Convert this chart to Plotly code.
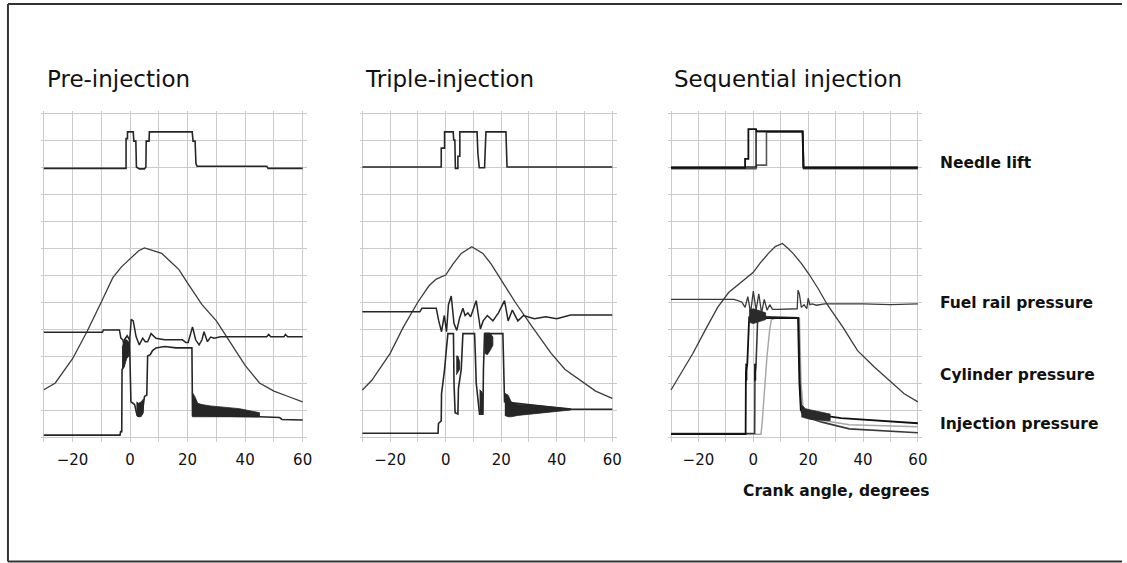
import plotly.graph_objects as go

W, H = 1127, 563

# ---------------- data ----------------
x_tick_vals = [-30, -20, -10, 0, 10, 20, 30, 40, 50, 60]
x_tick_text = ["", "\u221220", "", "0", "", "20", "", "40", "", "60"]
y_grid_vals = [0, 1, 2, 3, 4, 5, 6, 7, 8, 9, 10, 11, 12]

panel_titles = ["Pre-injection", "Triple-injection", "Sequential injection"]
trace_labels = ["Needle lift", "Fuel rail pressure", "Cylinder pressure", "Injection pressure"]
x_axis_title = "Crank angle, degrees"

# ---- Panel 1 : Pre-injection ----
p1_needle_x = [-30, -1.4, -1.4, -0.9, -0.9, 1.1, 1.3, 2.0, 2.2, 3.2, 5.0, 5.5, 5.6, 6.6, 6.7, 21.6, 21.9, 22.6, 22.9, 23.3, 47.5, 48, 60]
p1_needle_y = [9.95, 9.95, 11.05, 11.05, 11.3, 11.3, 10.96, 10.96, 10.0, 9.93, 9.93, 10.0, 10.96, 10.96, 11.3, 11.3, 10.96, 10.96, 10.13, 10.03, 10.03, 9.95, 9.95]

p1_cyl_x = [-30, -26, -20, -15, -10, -6, -3, -1, 1, 3, 5, 8, 11, 14, 17, 20, 25, 30, 35, 40, 45, 50, 55, 60]
p1_cyl_y = [1.75, 2.0, 2.9, 3.9, 5.0, 5.9, 6.3, 6.5, 6.7, 6.9, 7.0, 6.9, 6.8, 6.5, 6.2, 5.7, 4.9, 4.3, 3.5, 2.65, 2.0, 1.7, 1.5, 1.3]

p1_rail_x = [-30, -9.6, -9.3, -3.7, -3.2, -2.5, -1.4, -0.8, -0.2, 0.4, 1.1, 2.1, 3.2, 4.4, 5.3, 6.1, 7.3, 9.0, 12, 18.2, 19.4, 20.2, 21.7, 22.8, 24.0, 25.0, 25.7, 26.9, 28, 29.2, 31.5, 47.5, 48.2, 48.9, 53.5, 54.0, 54.8, 60]
p1_rail_y = [3.88, 3.88, 3.96, 3.96, 3.66, 3.6, 2.97, 3.2, 3.5, 4.36, 4.3, 3.71, 3.41, 3.66, 3.53, 3.53, 3.83, 3.66, 3.6, 3.6, 3.5, 3.5, 4.08, 3.6, 3.41, 3.6, 3.9, 3.53, 3.7, 3.66, 3.71, 3.71, 3.8, 3.71, 3.71, 3.8, 3.71, 3.71]

p1_inj_x = [-30, -3.5, -3.3, -2.9, -2.8, -2.2, -2.0, -1.0, -0.2, 0.3, 1.0, 1.6, 2.2, 2.8, 3.5, 4.2, 5.0, 5.8, 6.1, 7.0, 7.8, 9.0, 12.0, 16.0, 21.5, 21.7, 45.0, 52.0, 52.8, 60.0]
p1_inj_y = [0.07, 0.07, 0.2, 0.2, 2.5, 2.6, 3.6, 3.75, 3.6, 1.3, 1.25, 1.2, 0.9, 0.75, 1.0, 0.85, 1.5, 1.55, 3.0, 3.05, 3.2, 3.3, 3.35, 3.3, 3.3, 0.8, 0.75, 0.72, 0.65, 0.63]

# oscillation envelopes (upper / lower) read from the dark smeared regions
p1_band1_x = [-2.8, -2.0, -1.2, -0.4]
p1_band1_up = [3.3, 3.6, 3.6, 3.5]
p1_band1_lo = [2.5, 2.6, 2.9, 3.0]
p1_band2_x = [2.2, 3.0, 3.8, 4.6]
p1_band2_up = [1.3, 1.25, 1.3, 1.4]
p1_band2_lo = [0.8, 0.75, 0.75, 0.9]
p1_band3_x = [21.6, 22.5, 23.5, 25, 28, 33, 38, 45]
p1_band3_up = [1.65, 1.5, 1.25, 1.2, 1.15, 1.1, 1.05, 0.9]
p1_band3_lo = [0.75, 0.75, 0.75, 0.75, 0.75, 0.75, 0.75, 0.75]

# ---- Panel 2 : Triple-injection ----
p2_needle_x = [-30, -1.6, -1.6, -0.4, -0.4, 2.7, 2.9, 3.3, 3.5, 4.4, 4.4, 5.1, 5.1, 11.3, 11.6, 12.1, 14.0, 14.5, 21.7, 22.1, 60]
p2_needle_y = [10.0, 10.0, 10.7, 10.7, 11.3, 11.3, 11.0, 11.0, 9.95, 9.95, 10.4, 10.4, 11.3, 11.3, 10.5, 9.97, 9.97, 11.3, 11.3, 10.0, 10.0]

p2_cyl_x = [-30, -26.6, -20, -15.3, -10, -6, -3.4, 0, 2.6, 5.6, 9.4, 13.4, 16.4, 19.4, 25, 31.3, 38, 43, 48.6, 54, 60]
p2_cyl_y = [1.74, 2.1, 3.1, 4.06, 5.0, 5.6, 5.85, 6.0, 6.4, 6.8, 7.05, 6.8, 6.4, 5.9, 5.0, 4.06, 3.1, 2.5, 2.1, 1.7, 1.43]

p2_rail_x = [-30, -9.3, -8.5, -3.4, -2.5, -1.5, -0.5, 0.3, 1.0, 2.0, 3.0, 4.0, 5.0, 6.2, 7.0, 8.0, 9.0, 11.0, 12.5, 13.5, 15.0, 17.0, 19.0, 21.2, 22.5, 24.0, 26.0, 28.0, 32.0, 36.0, 40.0, 45.0, 60]
p2_rail_y = [4.64, 4.64, 4.77, 4.77, 4.3, 3.9, 4.5, 3.9, 4.9, 5.22, 4.2, 3.95, 4.4, 4.77, 4.5, 4.6, 4.45, 5.05, 4.0, 4.3, 4.5, 4.3, 4.6, 5.05, 4.3, 4.7, 4.3, 4.5, 4.38, 4.45, 4.38, 4.52, 4.52]

p2_inj_x = [-30, -2.75, -2.6, -1.6, -1.5, -0.4, 0.3, 0.8, 2.8, 3.0, 3.4, 4.4, 4.6, 5.6, 6.2, 10.4, 10.7, 11.0, 12.2, 13.4, 13.6, 14.0, 20.6, 21.2, 45, 60]
p2_inj_y = [0.14, 0.14, 0.5, 0.6, 1.6, 2.5, 3.3, 3.83, 3.83, 2.0, 0.9, 0.85, 1.8, 2.5, 3.83, 3.83, 3.0, 2.0, 0.84, 0.84, 2.5, 3.83, 3.83, 1.3, 1.03, 1.03]

p2_band1_x = [21.3, 22.5, 23.6, 26, 30, 35, 40, 45]
p2_band1_up = [1.62, 1.55, 1.3, 1.2, 1.19, 1.15, 1.1, 1.05]
p2_band1_lo = [0.8, 0.75, 0.75, 0.8, 0.85, 0.9, 0.95, 1.0]
p2_band2_x = [14.0, 15.0, 16.0, 17.0]
p2_band2_up = [3.85, 3.85, 3.85, 3.7]
p2_band2_lo = [3.1, 3.05, 3.2, 3.4]
p2_band3_x = [3.8, 4.4, 5.0]
p2_band3_up = [3.0, 3.0, 2.8]
p2_band3_lo = [2.3, 2.4, 2.5]
p2_band4_x = [12.2, 12.8, 13.4]
p2_band4_up = [1.75, 1.7, 1.6]
p2_band4_lo = [0.9, 0.85, 0.9]

# ---- Panel 3 : Sequential injection (three timings) ----
p3_needle_a_x = [-30, -3.0, -3.0, -1.8, -1.8, 1.0, 1.2, 18.0, 18.3, 60]
p3_needle_a_y = [9.97, 9.97, 10.3, 10.3, 11.4, 11.4, 11.32, 11.32, 9.97, 9.97]
p3_needle_b_x = [-30, 1.0, 1.0, 17.9, 18.2, 60]
p3_needle_b_y = [10.0, 10.0, 11.32, 11.32, 10.0, 10.0]
p3_needle_c_x = [-30, 1.0, 1.2, 4.8, 4.8, 18.0, 18.4, 60]
p3_needle_c_y = [9.94, 9.94, 10.07, 10.07, 11.3, 11.3, 9.94, 9.94]

p3_cyl_x = [-30, -27.8, -22, -17, -13, -9, -6, -2.5, 0, 2.4, 5.5, 8, 10.6, 12.5, 14.5, 17.5, 20.5, 23.6, 27, 32.7, 38, 44, 49.6, 55, 60]
p3_cyl_y = [1.74, 2.1, 3.1, 4.06, 4.8, 5.35, 5.6, 5.9, 6.1, 6.43, 6.8, 7.05, 7.17, 7.0, 6.8, 6.43, 6.0, 5.5, 4.9, 4.06, 3.2, 2.6, 2.1, 1.6, 1.3]

p3_rail_x = [-30, -7, -4.2, -3, -2, -1, 0, 1, 2, 3, 4, 5, 6, 7, 9, 12, 15, 16.0, 16.3, 16.8, 17.5, 18.5, 19.5, 20, 20.6, 21.5, 23, 26, 30, 40, 50, 60]
p3_rail_y = [5.1, 5.1, 5.0, 4.8, 5.2, 4.6, 5.4, 4.7, 5.3, 4.6, 5.1, 4.7, 4.9, 4.73, 4.73, 4.73, 4.75, 4.75, 5.44, 5.3, 4.8, 4.9, 4.75, 5.14, 4.9, 4.93, 4.88, 4.93, 4.93, 4.93, 4.9, 4.93]

p3_inj_a_x = [-30, -2.8, -2.7, -2.2, -1.5, -1.0, 16.3, 16.8, 17.3, 18.5, 25, 32, 60]
p3_inj_a_y = [0.11, 0.11, 2.4, 2.7, 4.46, 4.4, 4.4, 2.0, 1.0, 0.9, 0.8, 0.7, 0.51]
p3_inj_b_x = [-30, 0.5, 0.6, 1.0, 1.6, 2.0, 16.5, 17.0, 17.6, 19, 25, 35, 60]
p3_inj_b_y = [0.13, 0.13, 2.3, 2.7, 4.4, 4.46, 4.42, 2.0, 0.9, 0.75, 0.55, 0.3, 0.16]
p3_inj_c_x = [-30, 2.8, 3.2, 4.0, 5.0, 6.0, 6.6, 8.0, 16.8, 17.4, 18.2, 20, 26, 35, 60]
p3_inj_c_y = [0.1, 0.1, 0.5, 1.8, 3.0, 4.0, 4.35, 4.4, 4.4, 2.0, 1.0, 0.75, 0.6, 0.45, 0.38]

p3_band1_x = [17.5, 19, 21, 23, 25, 28]
p3_band1_up = [1.2, 1.05, 1.0, 0.95, 0.9, 0.85]
p3_band1_lo = [0.75, 0.7, 0.65, 0.65, 0.62, 0.6]
p3_band2_x = [-2.9, -2.6, -2.3]
p3_band2_up = [2.7, 2.7, 2.7]
p3_band2_lo = [2.1, 2.1, 2.1]
p3_band3_x = [0.3, 0.6, 0.9]
p3_band3_up = [2.7, 2.7, 2.7]
p3_band3_lo = [2.1, 2.1, 2.1]
p3_band4_x = [-1.5, 0, 1.5, 3, 4.5]
p3_band4_up = [4.7, 4.75, 4.7, 4.65, 4.6]
p3_band4_lo = [4.25, 4.2, 4.25, 4.3, 4.35]

# ---------------- layout helpers ----------------
def px_x(p):
    return p / W

def px_y(p):
    return 1 - p / H

X_RANGE = [-31.0, 61.6]
Y_RANGE = [-0.2, 12.08]
# pixel positions of x=-30 and x=60 for each panel, y=0 and y=12
panel_px = [(44, 304), (364, 615), (674, 922)]
Y0_PX, Y12_PX = 437, 113

fig = go.Figure()

LINE = "#262626"
CYL = "#3c3c3c"

def add_line(k, xs, ys, color=LINE, width=1.6):
    fig.add_trace(go.Scatter(x=xs, y=ys, mode="lines", xaxis=f"x{k}", yaxis=f"y{k}",
                             line=dict(color=color, width=width), hoverinfo="skip", showlegend=False))

def add_band(k, xs, up, lo, color="#262626"):
    fig.add_trace(go.Scatter(x=list(xs) + list(xs)[::-1], y=list(up) + list(lo)[::-1],
                             mode="lines", fill="toself", fillcolor=color, xaxis=f"x{k}", yaxis=f"y{k}",
                             line=dict(color=color, width=0.8), hoverinfo="skip", showlegend=False))

# Panel 1
add_line(1, p1_cyl_x, p1_cyl_y, CYL, 1.3)
add_line(1, p1_rail_x, p1_rail_y, LINE, 1.5)
add_line(1, p1_inj_x, p1_inj_y)
add_band(1, p1_band1_x, p1_band1_up, p1_band1_lo)
add_band(1, p1_band2_x, p1_band2_up, p1_band2_lo)
add_band(1, p1_band3_x, p1_band3_up, p1_band3_lo)
add_line(1, p1_needle_x, p1_needle_y)

# Panel 2
add_line(2, p2_cyl_x, p2_cyl_y, CYL, 1.3)
add_line(2, p2_rail_x, p2_rail_y, LINE, 1.5)
add_line(2, p2_inj_x, p2_inj_y)
add_band(2, p2_band1_x, p2_band1_up, p2_band1_lo)
add_band(2, p2_band2_x, p2_band2_up, p2_band2_lo)
add_band(2, p2_band3_x, p2_band3_up, p2_band3_lo)
add_band(2, p2_band4_x, p2_band4_up, p2_band4_lo)
add_line(2, p2_needle_x, p2_needle_y)

# Panel 3
add_line(3, p3_cyl_x, p3_cyl_y, CYL, 1.3)
add_line(3, p3_rail_x, p3_rail_y, "#3a3a3a", 1.3)
add_line(3, p3_inj_c_x, p3_inj_c_y, "#a8a8a8", 1.5)
add_line(3, p3_inj_b_x, p3_inj_b_y, "#3a3a3a", 1.6)
add_line(3, p3_inj_a_x, p3_inj_a_y, "#111111", 1.8)
add_band(3, p3_band1_x, p3_band1_up, p3_band1_lo, "#2a2a2a")
add_band(3, p3_band2_x, p3_band2_up, p3_band2_lo, "#111111")
add_band(3, p3_band3_x, p3_band3_up, p3_band3_lo, "#111111")
add_band(3, p3_band4_x, p3_band4_up, p3_band4_lo, "#2a2a2a")
add_line(3, p3_needle_c_x, p3_needle_c_y, "#555555", 1.6)
add_line(3, p3_needle_b_x, p3_needle_b_y, "#2a2a2a", 1.6)
add_line(3, p3_needle_a_x, p3_needle_a_y, "#111111", 1.8)

TICK_FONT = dict(family="DejaVu Sans", size=15, color="#111111")
GRID = "#cbcbcb"

layout = dict(width=W, height=H, autosize=False, margin=dict(l=0, r=0, t=0, b=0),
              paper_bgcolor="white", plot_bgcolor="white", showlegend=False)

for i, (xa, xb) in enumerate(panel_px, start=1):
    ppd = (xb - xa) / 90.0
    left = xa - (X_RANGE[0] + 30) * -ppd
    right = xb + (X_RANGE[1] - 60) * ppd
    ppu = (Y0_PX - Y12_PX) / 12.0
    bottom = Y0_PX - Y_RANGE[0] * ppu
    top = Y12_PX - (Y_RANGE[1] - 12) * ppu
    sfx = "" if i == 1 else str(i)
    layout[f"xaxis{sfx}"] = dict(domain=[px_x(left), px_x(right)], range=X_RANGE, anchor=f"y{i}",
                                  tickmode="array", tickvals=x_tick_vals, ticktext=x_tick_text,
                                  showgrid=True, gridcolor=GRID, gridwidth=1.4, zeroline=False,
                                  showline=False, ticks="outside", ticklen=4, tickcolor="rgba(0,0,0,0)",
                                  tickfont=TICK_FONT, fixedrange=True)
    layout[f"yaxis{sfx}"] = dict(domain=[px_y(bottom), px_y(top)], range=Y_RANGE, anchor=f"x{i}",
                                  tickmode="array", tickvals=y_grid_vals, showticklabels=False,
                                  showgrid=True, gridcolor=GRID, gridwidth=1.4, zeroline=False,
                                  showline=False, ticks="", fixedrange=True)

fig.update_layout(**layout)

annotations = []
title_font = dict(family="DejaVu Sans", size=23, color="#111111")
for (xa, _), title in zip(panel_px, panel_titles):
    annotations.append(dict(text=title, x=px_x(xa + 1), y=px_y(79), xref="paper", yref="paper",
                            xanchor="left", yanchor="middle", showarrow=False, font=title_font))
label_font = dict(family="DejaVu Sans", size=15.5, color="#111111", weight="bold")
for label, ypx in zip(trace_labels, [163, 303, 375, 424]):
    annotations.append(dict(text=label, x=px_x(942), y=px_y(ypx), xref="paper", yref="paper",
                            xanchor="left", yanchor="middle", showarrow=False, font=label_font))
annotations.append(dict(text=x_axis_title, x=px_x(744), y=px_y(491), xref="paper", yref="paper",
                        xanchor="left", yanchor="middle", showarrow=False, font=label_font))
fig.update_layout(annotations=annotations)

# outer frame (left, top, bottom edges visible in the reference)
frame = dict(color="#333333", width=2)
fig.add_shape(type="line", xref="paper", yref="paper", x0=px_x(8), x1=px_x(8), y0=px_y(4), y1=px_y(561.5), line=frame)
fig.add_shape(type="line", xref="paper", yref="paper", x0=px_x(8), x1=1.0, y0=px_y(4), y1=px_y(4), line=frame)
fig.add_shape(type="line", xref="paper", yref="paper", x0=px_x(8), x1=1.0, y0=px_y(561.5), y1=px_y(561.5), line=frame)

fig.write_html("out.html")
